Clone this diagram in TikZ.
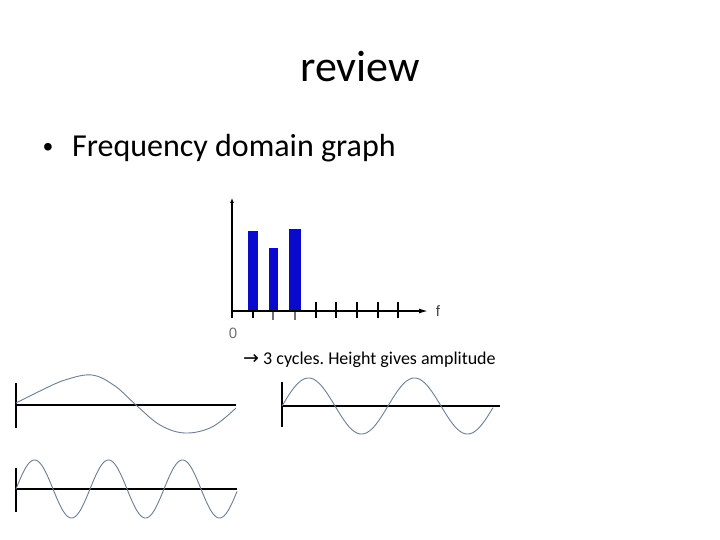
\documentclass[tikz,border=0pt]{standalone}
\usepackage{fontspec}
\setmainfont{Carlito}
\newfontfamily\dejavu{DejaVu Sans}
\newfontfamily\arialish{Liberation Sans}
\usetikzlibrary{arrows.meta}
\definecolor{wave}{HTML}{6A7F94}
\definecolor{barblue}{HTML}{0A0ACF}
\definecolor{tickgray}{HTML}{707070}
\tikzset{
  axisline/.style={line width=1.4pt, black},
  waveline/.style={line width=0.9pt, wave},
  tickline/.style={line width=1.2pt, black},
  bar/.style={fill=barblue, draw=none},
}
\frenchspacing
\begin{document}
\begin{tikzpicture}[x=1pt,y=-1pt]
\useasboundingbox (0,0) rectangle (720,540);
\fill[white] (0,0) rectangle (720,540);
% title and bullet
\node[anchor=base, inner sep=0pt, font=\fontsize{44}{50}\selectfont] (title) at (360,82) {review};
\node[anchor=base, inner sep=0pt, font=\arialish\fontsize{28}{34}\selectfont] (bullet) at (48,157) {•};
\node[anchor=base west, inner sep=0pt, font=\fontsize{32}{38}\selectfont] (bullettext) at (72,157) {Frequency domain graph};
% frequency graph
\foreach \x in {253,316,336,357,378,398} \draw[tickline] (\x,302) -- (\x,318);
\foreach \x in {273,295} \draw[tickline, tickgray] (\x,302) -- (\x,320);
\fill[bar] (248,231) rectangle (258,311);
\fill[bar] (269,248) rectangle (278,311);
\fill[bar] (289,229) rectangle (301,311);
\coordinate (origin) at (232,311);
\coordinate (ytop) at (232,198);
\coordinate (ybot) at (232,318);
\coordinate (xend) at (428,311);
\draw[axisline, -{Latex[length=5pt,width=4pt]}] (ybot) -- (ytop);
\draw[axisline, -{Latex[length=9pt,width=5pt]}] (origin) -- (xend);
\node[font=\arialish\fontsize{15}{17}\selectfont, text=tickgray, inner sep=0pt] (zero) at (233,333) {0};
\node[font=\arialish\fontsize{15}{17}\selectfont, text=black!75, inner sep=0pt] (flabel) at (438,311) {f};
\node[anchor=base west, inner sep=0pt, font=\fontsize{18}{21}\selectfont] (caption) at (243,364) {{\dejavu\fontsize{19}{21}\selectfont →} 3 cycles. Height gives amplitude};
% top-left wave
\draw[axisline] (16,383) -- (16,428);
\draw[axisline] (16,405) -- (236,405);
\draw[waveline] plot[smooth, tension=0.6] coordinates {(16,403) (40,391) (65,380) (92,375) (115,386) (136,405) (160,425) (185,433) (212,427) (236,408)};
% bottom-left wave
\draw[axisline] (16,468) -- (16,512);
\draw[axisline] (16,489) -- (237,489);
\draw[waveline, domain=0:221, samples=200, smooth] plot ({16+\x}, {489-29*sin(\x/74*360)});
% top-right wave
\draw[axisline] (282,382) -- (282,427);
\draw[axisline] (282,406) -- (500,406);
\draw[waveline, domain=0:211, samples=200, smooth] plot ({282+\x}, {406-28*sin(\x/106*360)});
\end{tikzpicture}
\end{document}
